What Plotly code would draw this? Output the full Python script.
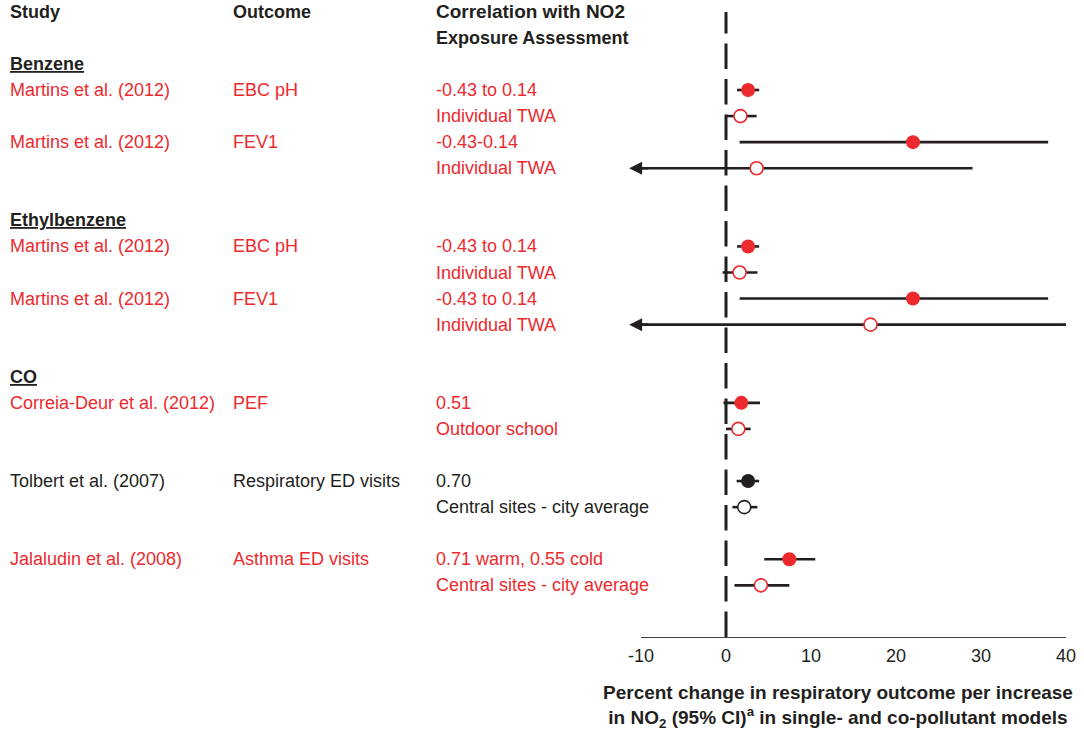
import plotly.graph_objects as go

# ---- data -----------------------------------------------------------------
groups = ["Benzene", "Ethylbenzene", "CO"]
studies = ["Martins et al. (2012)", "Martins et al. (2012)", "Martins et al. (2012)",
           "Martins et al. (2012)", "Correia-Deur et al. (2012)", "Tolbert et al. (2007)",
           "Jalaludin et al. (2008)"]
outcomes = ["EBC pH", "FEV1", "EBC pH", "FEV1", "PEF", "Respiratory ED visits",
            "Asthma ED visits"]
correlations = ["-0.43 to 0.14", "-0.43-0.14", "-0.43 to 0.14", "-0.43 to 0.14", "0.51",
                "0.70", "0.71 warm, 0.55 cold"]
exposures = ["Individual TWA", "Individual TWA", "Individual TWA", "Individual TWA",
             "Outdoor school", "Central sites - city average", "Central sites - city average"]
highlighted = [True, True, True, True, True, False, True]

# single-pollutant model (filled) and co-pollutant model (open)
single_est = [2.6, 22.0, 2.6, 22.0, 1.8, 2.6, 7.45]
single_lo = [1.3, 1.6, 1.3, 1.6, -0.3, 1.25, 4.5]
single_hi = [3.9, 37.9, 3.9, 37.9, 4.0, 3.9, 10.5]
co_est = [1.7, 3.6, 1.6, 17.0, 1.45, 2.15, 4.1]
co_lo = [-0.1, None, -0.4, None, 0.0, 0.75, 1.0]   # None: below -10 (off scale)
co_hi = [3.6, 29.0, 3.7, 40.0, 2.9, 3.7, 7.45]

x_ticks = [-10, 0, 10, 20, 30, 40]

# ---- layout helpers -------------------------------------------------------
W, H = 1084, 734
AX_L, AX_R, AX_B = 641, 1066, 637          # plot area in pixels
ROW0, ROW_H = 11.8, 26.07                  # pixel centre of row 0 and row pitch
X_MIN, X_MAX = -10, 40

group_rows = [2, 8, 14]
entry_rows = [3, 5, 9, 11, 15, 18, 21]

RED = "#EC2A2E"
DARK = "#231F20"
FONT = "Liberation Sans, Arial, Helvetica, sans-serif"
FS = 18


def px_x(px):
    return (px - AX_L) / (AX_R - AX_L)


def px_y(py):
    return (AX_B - py) / AX_B


fig = go.Figure()

# confidence-interval lines
ci_x, ci_y = [], []
for i, r in enumerate(entry_rows):
    ci_x += [single_lo[i], single_hi[i], None]
    ci_y += [r, r, None]
    lo = co_lo[i] if co_lo[i] is not None else X_MIN - 2
    ci_x += [lo, co_hi[i], None]
    ci_y += [r + 1, r + 1, None]
fig.add_trace(go.Scatter(x=ci_x, y=ci_y, mode="lines",
                         line=dict(color=DARK, width=2.6), hoverinfo="skip",
                         showlegend=False))

# point estimates
for i, r in enumerate(entry_rows):
    col = RED if highlighted[i] else DARK
    fig.add_trace(go.Scatter(x=[single_est[i]], y=[r], mode="markers",
                             marker=dict(size=14, color=col, line=dict(width=0)),
                             showlegend=False, cliponaxis=False))
    fig.add_trace(go.Scatter(x=[co_est[i]], y=[r + 1], mode="markers",
                             marker=dict(size=13, color="white",
                                         line=dict(width=1.6, color=col)),
                             showlegend=False, cliponaxis=False))

annotations = []

# arrows for intervals that run off the left end of the scale
for i, r in enumerate(entry_rows):
    if co_lo[i] is None:
        annotations.append(dict(x=X_MIN - 1.4, y=r + 1, xref="x", yref="y",
                                ax=X_MIN + 1, ay=r + 1, axref="x", ayref="y",
                                text="", showarrow=True, arrowhead=2, arrowsize=1,
                                arrowwidth=2.6, arrowcolor=DARK, standoff=0,
                                startstandoff=0))


def label(px, row, text, color=DARK, bold=False, size=FS):
    if bold:
        text = "<b>" + text + "</b>"
    annotations.append(dict(x=px_x(px), y=row, xref="paper", yref="y", text=text,
                            showarrow=False, xanchor="left", yanchor="middle",
                            font=dict(family=FONT, size=size, color=color)))


COL_STUDY, COL_OUTCOME, COL_CORR = 8, 231, 434

# column headers
label(COL_STUDY, 0, "Study", bold=True)
label(COL_OUTCOME, 0, "Outcome", bold=True)
label(COL_CORR, 0, "Correlation with NO2", bold=True, size=19)
label(COL_CORR, 1, "Exposure Assessment", bold=True)

# pollutant group headers
for g, r in zip(groups, group_rows):
    label(COL_STUDY, r, "<u>" + g + "</u>", bold=True)

# study rows
for i, r in enumerate(entry_rows):
    col = RED if highlighted[i] else DARK
    label(COL_STUDY, r, studies[i], col)
    label(COL_OUTCOME, r, outcomes[i], col)
    label(COL_CORR, r, correlations[i], col)
    label(COL_CORR, r + 1, exposures[i], col)

# axis title
annotations.append(dict(x=px_x(838), y=px_y(706), xref="paper", yref="paper",
                        showarrow=False, xanchor="center", yanchor="middle",
                        text="<b>Percent change in respiratory outcome per increase<br>"
                             "in NO<sub>2</sub> (95% CI)<sup>a</sup> in single- and "
                             "co-pollutant models</b>",
                        font=dict(family=FONT, size=19, color=DARK), align="center"))

# null line (dashed, drawn upward from the axis)
shapes = [dict(type="line", xref="x", yref="paper", x0=0, x1=0, y0=0,
               y1=px_y(12), line=dict(color=DARK, width=3, dash="25.5px,10px"))]

fig.update_layout(
    width=W, height=H,
    margin=dict(l=AX_L, r=W - AX_R, t=0, b=H - AX_B),
    paper_bgcolor="white", plot_bgcolor="white",
    showlegend=False,
    annotations=annotations,
    shapes=shapes,
    xaxis=dict(range=[X_MIN, X_MAX], tickvals=x_ticks, ticktext=[str(t) for t in x_ticks],
               showgrid=False, zeroline=False, showline=True, linecolor="#444444",
               linewidth=1.4, ticks="outside", ticklen=2, tickcolor="rgba(0,0,0,0)",
               tickfont=dict(family=FONT, size=FS, color=DARK), fixedrange=True),
    yaxis=dict(range=[(AX_B - ROW0) / ROW_H, -ROW0 / ROW_H], visible=False,
               showgrid=False, zeroline=False, fixedrange=True),
)

fig.write_html("out.html")
